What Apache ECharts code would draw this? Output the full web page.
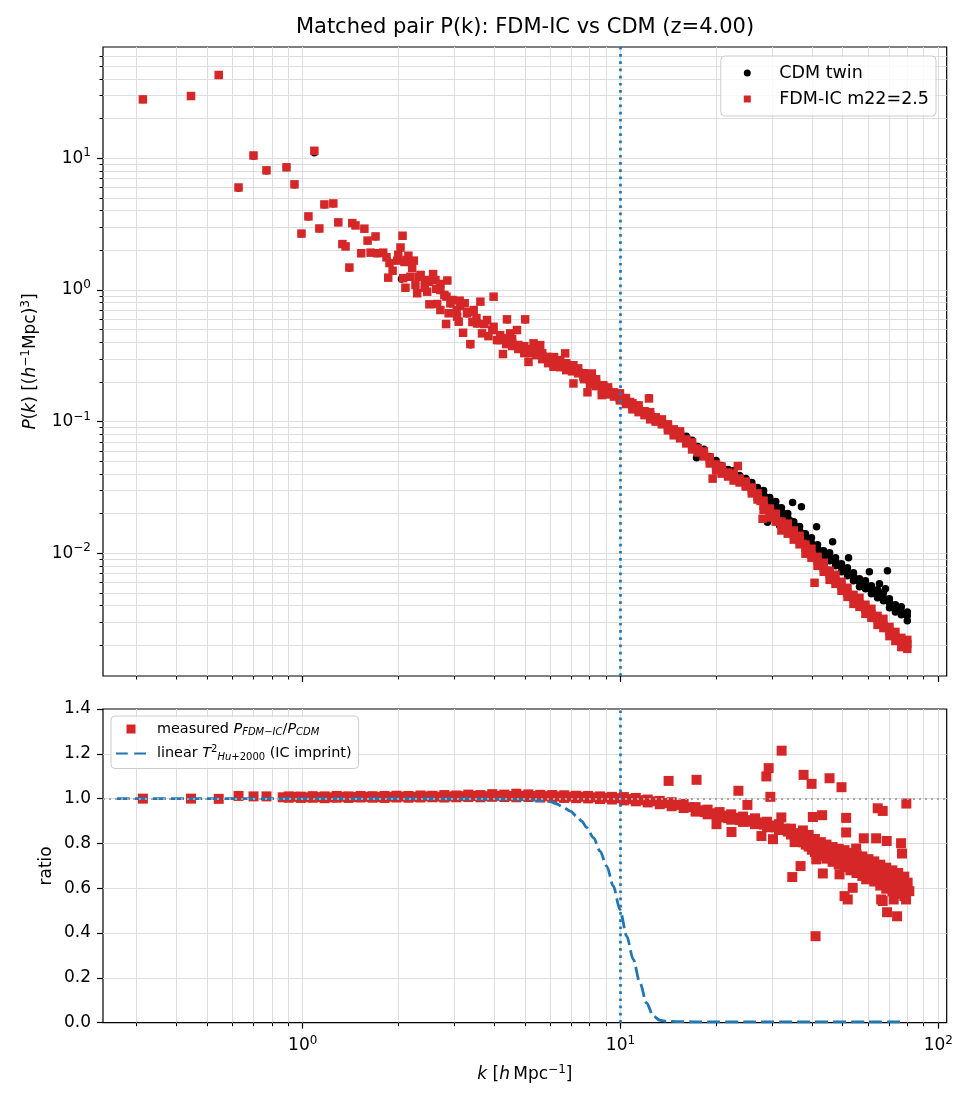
<!DOCTYPE html>
<html lang="en">

<head>
  <meta charset="UTF-8">
  <title>Matched pair P(k): FDM-IC vs CDM</title>
  <script src="https://cdn.jsdelivr.net/npm/echarts@6.0.0/dist/echarts.min.js"></script>
</head>

<style>
  html,
  body {
    margin: 0;
    background: #fff;
  }

  #chart {
    width: 975px;
    height: 1105px;
  }
</style>

<body>
  <div id="chart"></div>
  <script type="text/javascript">
    // ---- data: [k (h/Mpc), value] ----

    // CDM twin, P(k) (black dots, mostly hidden under the red squares below k~15)
    var cdmPk = [
      [0.314, 28.0], [0.445, 29.6], [0.544, 42.8], [0.628, 5.95], [0.700, 10.4], [0.769, 8.05], [0.889, 8.5], [0.942, 6.3], [1.088, 11.0],
      [0.991, 2.67], [1.042, 3.60], [1.128, 2.92], [1.170, 4.44], [1.248, 4.52], [1.294, 3.25], [1.333, 2.22], [1.402, 1.47], [1.432, 3.20],
      [1.563, 2.91], [1.600, 2.36], [1.695, 2.54], [1.528, 1.89], [1.716, 1.89], [1.835, 1.76], [1.918, 1.39], [2.045, 1.21], [2.061, 2.56],
      [2.031, 2.09], [2.121, 1.68], [2.236, 1.66], [2.105, 1.03], [2.318, 1.25], [2.421, 1.18], [2.572, 1.31], [2.711, 0.99], [2.649, 0.776],
      [2.915, 0.786], [3.118, 0.823], [3.369, 0.384], [3.096, 0.570], [3.289, 0.660], [3.536, 0.553], [3.802, 0.587],
      [4.393, 0.594], [5.012, 0.594],
      [4.18, 0.435], [4.56, 0.40], [4.98, 0.358], [5.43, 0.33], [5.92, 0.30], [6.46, 0.276], [7.04, 0.252], [7.68, 0.223], [8.38, 0.198],
      [9.14, 0.175], [9.96, 0.154], [10.9, 0.135], [11.9, 0.119], [12.3, 0.152], [12.9, 0.105], [14.1, 0.092], [15.4, 0.080],
      [16.1, 0.0773], [16.1, 0.0708], [16.8, 0.0721], [16.8, 0.0660], [17.5, 0.0648], [17.5, 0.0584], [18.3, 0.0616], [18.3, 0.0554],
      [19.1, 0.0544], [19.1, 0.0498], [20.0, 0.0507], [20.0, 0.0464], [20.8, 0.0465], [20.8, 0.0418], [21.8, 0.0433], [21.8, 0.0390],
      [22.7, 0.0426], [22.7, 0.0383], [23.7, 0.0389], [23.7, 0.0357], [24.8, 0.0370], [24.8, 0.0333], [25.9, 0.0345], [25.9, 0.0316],
      [27.0, 0.0316], [27.0, 0.0284], [28.2, 0.0300], [28.2, 0.0266], [29.5, 0.0265], [29.5, 0.0234], [30.8, 0.0247], [30.8, 0.0218],
      [32.1, 0.0222], [32.1, 0.0197], [33.6, 0.0201], [33.6, 0.0177], [35.1, 0.0174], [35.1, 0.0154], [36.6, 0.0160], [36.6, 0.0139],
      [38.2, 0.0141], [38.2, 0.0123], [39.9, 0.0131], [39.9, 0.0114], [41.7, 0.0116], [41.7, 0.0101], [43.6, 0.01047], [43.6, 0.00910],
      [45.5, 0.01011], [45.5, 0.00879], [47.5, 0.00926], [47.5, 0.00805], [49.6, 0.00834], [49.6, 0.00725], [51.8, 0.00777], [51.8, 0.00676],
      [54.1, 0.00711], [54.1, 0.00618], [56.5, 0.00641], [56.5, 0.00557], [59.0, 0.00619], [59.0, 0.00538], [61.6, 0.00566], [61.6, 0.00492],
      [64.4, 0.00528], [64.4, 0.00459], [67.2, 0.00501], [67.2, 0.00436], [70.2, 0.00452], [70.2, 0.00386], [73.3, 0.00406], [73.3, 0.00359],
      [76.5, 0.00392], [76.5, 0.00341], [79.9, 0.00359], [79.9, 0.00307],
      [16.1, 0.0746], [16.8, 0.0684], [17.5, 0.0626], [18.3, 0.0574], [19.1, 0.0525], [20.0, 0.0481], [20.8, 0.0441], [21.8, 0.0418],
      [22.7, 0.0397], [23.7, 0.0376], [24.8, 0.0351], [25.9, 0.0327], [27.0, 0.0305], [28.2, 0.0280], [29.5, 0.0251], [30.8, 0.0230],
      [32.1, 0.0211], [33.6, 0.0187], [35.1, 0.0165], [36.6, 0.0149], [38.2, 0.0134], [39.9, 0.0120], [41.7, 0.0108], [43.6, 0.00993],
      [45.5, 0.00926], [47.5, 0.00863], [49.6, 0.00791], [51.8, 0.00712], [54.1, 0.00663], [56.5, 0.00608], [59.0, 0.00567], [61.6, 0.00528],
      [64.4, 0.00501], [67.2, 0.00459], [70.2, 0.00421], [73.3, 0.00385], [76.5, 0.00359], [79.9, 0.00335],
      [27.6, 0.0292], [28.8, 0.0265], [30.1, 0.0240], [31.4, 0.0220], [32.9, 0.0199], [34.3, 0.0176], [35.8, 0.0157], [37.4, 0.0141],
      [39.0, 0.0127], [40.8, 0.0114], [42.6, 0.0104], [44.5, 0.00960], [46.5, 0.00895], [48.5, 0.00827], [50.7, 0.00750], [53.0, 0.00688],
      [55.3, 0.00636], [57.7, 0.00588], [60.3, 0.00548], [63.0, 0.00515], [65.8, 0.00480], [68.7, 0.00440], [71.7, 0.00403], [74.9, 0.00372],
      [78.2, 0.00347],
      [34.8, 0.0243], [37.1, 0.0226], [41.4, 0.0159], [46.5, 0.01226], [52.2, 0.00926], [60.7, 0.00724], [69.2, 0.00736], [65.3, 0.00587],
      [68.2, 0.00538], [17.35, 0.0532], [29.0, 0.0172], [31.7, 0.0162]
    ];

    // FDM-IC m22=2.5, P(k) (red squares)
    var fdmPk = [
      [0.314, 28.0], [0.445, 29.7], [0.544, 42.9], [0.628, 6.0], [0.700, 10.5], [0.769, 8.1], [0.889, 8.54], [0.942, 6.34], [1.088, 11.4],
      [0.991, 2.68], [1.042, 3.62], [1.128, 2.93], [1.170, 4.46], [1.248, 4.54], [1.294, 3.26], [1.333, 2.23], [1.364, 2.14], [1.402, 1.48],
      [1.432, 3.22], [1.466, 3.09], [1.563, 2.92], [1.600, 2.37], [1.695, 2.55], [1.528, 1.90], [1.635, 1.92], [1.716, 1.90], [1.792, 1.92],
      [1.835, 1.77], [1.875, 1.60], [1.918, 1.40], [1.858, 1.24], [2.061, 2.58], [2.031, 2.10], [1.998, 1.85], [1.983, 1.67], [2.121, 1.69],
      [2.236, 1.67], [2.071, 1.23], [2.105, 1.04], [2.183, 1.26], [2.318, 1.26], [2.263, 1.09], [2.292, 0.944], [2.421, 1.19], [2.572, 1.32],
      [2.616, 1.19], [2.852, 1.18], [2.464, 0.970], [2.711, 1.00], [2.504, 0.778], [2.649, 0.782], [2.711, 0.704], [2.833, 0.889],
      [2.915, 0.792], [3.118, 0.829], [3.233, 0.792], [3.623, 0.815], [3.987, 0.889], [2.826, 0.551], [3.096, 0.574], [3.196, 0.473],
      [3.369, 0.388], [2.879, 0.665], [3.061, 0.627], [3.289, 0.665], [3.451, 0.704], [3.536, 0.557], [3.666, 0.468], [3.802, 0.591],
      [3.987, 0.525], [4.085, 0.416], [4.267, 0.326], [4.393, 0.598], [4.499, 0.468], [4.723, 0.496], [5.012, 0.598], [4.837, 0.370],
      [5.134, 0.284], [5.325, 0.393], [5.589, 0.381], [5.866, 0.310], [6.152, 0.261], [6.697, 0.330], [6.457, 0.293], [7.110, 0.268],
      [7.110, 0.195], [7.643, 0.219], [7.871, 0.167], [8.122, 0.232], [8.216, 0.206], [8.831, 0.189], [8.730, 0.159], [9.49, 0.163],
      [9.957, 0.145], [10.71, 0.141], [11.24, 0.129], [12.29, 0.150],
      [2.09, 1.63], [2.21, 1.47], [2.35, 1.30], [2.49, 1.15], [2.63, 1.02], [2.79, 0.916], [2.96, 0.839], [3.13, 0.755], [3.32, 0.680],
      [3.52, 0.612], [3.73, 0.551], [3.95, 0.496], [2.15, 1.82], [2.42, 1.04], [2.71, 1.11], [3.05, 0.704], [3.42, 0.571], [3.84, 0.446],
      [4.18, 0.454], [4.18, 0.416], [4.37, 0.431], [4.37, 0.388], [4.56, 0.424], [4.56, 0.375], [4.77, 0.382], [4.77, 0.356],
      [4.98, 0.374], [4.98, 0.331], [5.20, 0.355], [5.20, 0.331], [5.43, 0.350], [5.43, 0.320], [5.67, 0.331], [5.67, 0.298],
      [5.92, 0.309], [5.92, 0.278], [6.18, 0.309], [6.18, 0.273], [6.46, 0.278], [6.46, 0.259], [6.75, 0.278], [6.75, 0.246],
      [7.04, 0.259], [7.04, 0.241], [7.36, 0.254], [7.36, 0.233], [7.68, 0.233], [7.68, 0.210], [8.02, 0.213], [8.02, 0.192],
      [8.38, 0.210], [8.38, 0.186], [8.75, 0.185], [8.75, 0.173], [9.14, 0.182], [9.14, 0.161], [9.54, 0.167], [9.54, 0.155],
      [9.96, 0.164], [9.96, 0.150], [10.4, 0.151], [10.4, 0.136], [10.9, 0.138], [10.9, 0.124], [11.4, 0.133], [11.4, 0.118],
      [11.9, 0.120], [11.9, 0.112], [12.4, 0.118], [12.4, 0.104], [12.9, 0.108], [12.9, 0.100], [13.5, 0.104], [13.5, 0.0954],
      [14.1, 0.0954], [14.1, 0.0859], [14.7, 0.0874], [14.7, 0.0787], [15.4, 0.0844], [15.4, 0.0747], [16.1, 0.0733], [16.1, 0.0683],
      [16.8, 0.0696], [16.8, 0.0615], [17.5, 0.0626], [17.5, 0.0583], [18.3, 0.0594], [18.3, 0.0544], [19.1, 0.0534], [19.1, 0.0481],
      [20.0, 0.0473], [20.0, 0.0426], [20.8, 0.0456], [20.8, 0.0403], [21.8, 0.0411], [21.8, 0.0383], [22.7, 0.0404], [22.7, 0.0357],
      [23.7, 0.0370], [23.7, 0.0345], [24.8, 0.0351], [24.8, 0.0321], [25.9, 0.0316], [25.9, 0.0285], [27.0, 0.0285], [27.0, 0.0256],
      [28.2, 0.0251], [28.2, 0.0214], [29.5, 0.0219], [29.5, 0.0187], [30.8, 0.0200], [30.8, 0.0174], [32.1, 0.0174], [32.1, 0.0149],
      [33.6, 0.0168], [33.6, 0.0141], [35.1, 0.0149], [35.1, 0.0127], [36.6, 0.0136], [36.6, 0.0117], [38.2, 0.01163], [38.2, 0.00993],
      [39.9, 0.01084], [39.9, 0.00926], [41.7, 0.00941], [41.7, 0.00803], [43.6, 0.00848], [43.6, 0.00724], [45.5, 0.00737], [45.5, 0.00629],
      [47.5, 0.00687], [47.5, 0.00586], [49.6, 0.00608], [49.6, 0.00519], [51.8, 0.00547], [51.8, 0.00467], [54.1, 0.00484], [54.1, 0.00413],
      [56.5, 0.00459], [56.5, 0.00392], [59.0, 0.00407], [59.0, 0.00347], [61.6, 0.00379], [61.6, 0.00324], [64.4, 0.00335], [64.4, 0.00286],
      [67.2, 0.00318], [67.2, 0.00271], [70.2, 0.00276], [70.2, 0.00235], [73.3, 0.00253], [73.3, 0.00216], [76.5, 0.00228], [76.5, 0.00194],
      [79.9, 0.00220], [79.9, 0.00188],
      [4.18, 0.431], [4.37, 0.416], [4.56, 0.395], [4.77, 0.375], [4.98, 0.355], [5.20, 0.343], [5.43, 0.326], [5.67, 0.314],
      [5.92, 0.298], [6.18, 0.288], [6.46, 0.273], [6.75, 0.264], [7.04, 0.250], [7.36, 0.237], [7.68, 0.221], [8.02, 0.206],
      [8.38, 0.196], [8.75, 0.182], [9.14, 0.173], [9.54, 0.161], [9.96, 0.153], [10.4, 0.143], [10.9, 0.133], [11.4, 0.124],
      [11.9, 0.118], [12.4, 0.112], [12.9, 0.104], [13.5, 0.0971], [14.1, 0.0905], [14.7, 0.0844], [15.4, 0.0787], [16.1, 0.0720],
      [16.8, 0.0660], [17.5, 0.0604], [18.3, 0.0554], [19.1, 0.0507], [20.0, 0.0457], [20.8, 0.0425], [21.8, 0.0404], [22.7, 0.0383],
      [23.7, 0.0357], [24.8, 0.0327], [25.9, 0.0300], [27.0, 0.0270], [28.2, 0.0230], [29.5, 0.0204], [30.8, 0.0183], [32.1, 0.0165],
      [33.6, 0.0151], [35.1, 0.0139], [36.6, 0.0125], [38.2, 0.01103], [39.9, 0.00976], [41.7, 0.00877], [43.6, 0.00777], [45.5, 0.00699],
      [47.5, 0.00618], [49.6, 0.00567], [51.8, 0.00501], [54.1, 0.00459], [56.5, 0.00413], [59.0, 0.00379], [61.6, 0.00347], [64.4, 0.00318],
      [67.2, 0.00286], [70.2, 0.00257], [73.3, 0.00232], [76.5, 0.00216], [79.9, 0.00205],
      [27.6, 0.0250], [28.8, 0.0217], [30.1, 0.0193], [31.4, 0.0174], [32.9, 0.0158], [34.3, 0.0145], [35.8, 0.0132], [37.4, 0.0118],
      [39.0, 0.0104], [40.8, 0.00925], [42.6, 0.00826], [44.5, 0.00737], [46.5, 0.00657], [48.5, 0.00592], [50.7, 0.00533], [53.0, 0.00480],
      [55.3, 0.00436], [57.7, 0.00396], [60.3, 0.00363], [63.0, 0.00332], [65.8, 0.00302], [68.7, 0.00271], [71.7, 0.00244], [74.9, 0.00224],
      [78.2, 0.00210],
      [19.5, 0.0369], [23.4, 0.0460], [28.0, 0.0183], [40.8, 0.00597]
    ];

    // measured P_FDM-IC / P_CDM (red squares, lower panel)
    var ratioPk = [
      [0.314, 1.000], [0.445, 1.000], [0.544, 0.999], [0.628, 1.012], [0.700, 1.010], [0.769, 1.010],
      [0.865, 1.006], [0.904, 1.004], [0.904, 1.010], [0.944, 1.008], [0.986, 1.003], [0.986, 1.009], [1.029, 1.006], [1.075, 1.004],
      [1.075, 1.011], [1.123, 1.007], [1.172, 1.002], [1.172, 1.010], [1.224, 1.006], [1.279, 1.004], [1.279, 1.012], [1.335, 1.008],
      [1.394, 1.003], [1.394, 1.010], [1.457, 1.007], [1.521, 1.005], [1.521, 1.012], [1.588, 1.008], [1.659, 1.004], [1.659, 1.011],
      [1.732, 1.007], [1.809, 1.003], [1.809, 1.012], [1.889, 1.008], [1.973, 1.005], [1.973, 1.013], [2.061, 1.009], [2.152, 1.004],
      [2.152, 1.012], [2.247, 1.008], [2.347, 1.005], [2.347, 1.014], [2.451, 1.010], [2.559, 1.006], [2.559, 1.013], [2.673, 1.009],
      [2.791, 1.005], [2.791, 1.016], [2.915, 1.010], [3.044, 1.006], [3.044, 1.014], [3.179, 1.011], [3.320, 1.007], [3.320, 1.018],
      [3.467, 1.012], [3.621, 1.006], [3.621, 1.016], [3.781, 1.011], [3.949, 1.008], [3.949, 1.020], [4.124, 1.013], [4.31, 1.007],
      [4.31, 1.018], [4.50, 1.012], [4.70, 1.006], [4.70, 1.022], [4.91, 1.013], [5.13, 1.007], [5.13, 1.019], [5.35, 1.012],
      [5.59, 1.005], [5.59, 1.017], [5.84, 1.011], [6.10, 1.004], [6.10, 1.016], [6.37, 1.010], [6.65, 1.003], [6.65, 1.015],
      [6.94, 1.009], [7.25, 1.002], [7.25, 1.013], [7.57, 1.008], [7.91, 1.001], [7.91, 1.012], [8.26, 1.006], [8.62, 0.998],
      [8.62, 1.010], [9.00, 1.004], [9.40, 0.996], [9.40, 1.008], [9.81, 1.002], [10.25, 0.992], [10.25, 1.007], [10.7, 0.998],
      [11.17, 0.988], [11.17, 1.003], [11.67, 0.993], [12.18, 0.983], [12.18, 0.996], [12.72, 0.988], [13.29, 0.975], [13.29, 0.990],
      [13.88, 0.980], [14.49, 0.966], [14.49, 0.984], [15.13, 0.972], [15.8, 0.958], [15.8, 0.976], [16.5, 0.962], [17.23, 0.942],
      [17.23, 0.962], [18.0, 0.948], [18.8, 0.930], [18.8, 0.951], [19.6, 0.935], [20.5, 0.916], [20.5, 0.940], [21.4, 0.924],
      [22.3, 0.906], [22.3, 0.930], [23.3, 0.915], [24.3, 0.896], [24.3, 0.920], [25.4, 0.904], [26.5, 0.886], [26.5, 0.912],
      [27.7, 0.894], [28.9, 0.872], [28.9, 0.897], [30.2, 0.880], [31.5, 0.860], [31.5, 0.886], [32.9, 0.866], [34.4, 0.840],
      [34.4, 0.866], [35.9, 0.846],
      [18.4, 0.940], [20.1, 0.926], [21.8, 0.913], [23.8, 0.904], [25.9, 0.897], [28.3, 0.884], [30.8, 0.872], [33.6, 0.853],
      [36.6, 0.834],
      [37.5, 0.805], [37.5, 0.832], [37.5, 0.858], [39.1, 0.786], [39.1, 0.812], [39.1, 0.838], [40.9, 0.762], [40.9, 0.792],
      [40.9, 0.820], [42.7, 0.748], [42.7, 0.778], [42.7, 0.806], [44.5, 0.732], [44.5, 0.765], [44.5, 0.795], [46.5, 0.718],
      [46.5, 0.752], [46.5, 0.784], [48.6, 0.706], [48.6, 0.742], [48.6, 0.776], [50.7, 0.694], [50.7, 0.732], [50.7, 0.770],
      [52.9, 0.680], [52.9, 0.722], [52.9, 0.758], [55.3, 0.668], [55.3, 0.712], [55.3, 0.750], [57.7, 0.655], [57.7, 0.700],
      [57.7, 0.742], [60.3, 0.642], [60.3, 0.688], [60.3, 0.730], [62.9, 0.630], [62.9, 0.676], [62.9, 0.720], [65.7, 0.612],
      [65.7, 0.660], [65.7, 0.705], [68.6, 0.598], [68.6, 0.645], [68.6, 0.692], [71.7, 0.586], [71.7, 0.632], [71.7, 0.680],
      [74.8, 0.575], [74.8, 0.620], [74.8, 0.668], [78.2, 0.565], [78.2, 0.608], [78.2, 0.652],
      [38.3, 0.820], [38.3, 0.795], [40.0, 0.800], [40.0, 0.772], [41.8, 0.790], [41.8, 0.758], [43.6, 0.780], [43.6, 0.745],
      [45.5, 0.770], [45.5, 0.735], [47.5, 0.762], [47.5, 0.724], [49.6, 0.756], [49.6, 0.714], [51.8, 0.742], [51.8, 0.705],
      [54.1, 0.735], [54.1, 0.690], [56.5, 0.722], [56.5, 0.680], [59.0, 0.712], [59.0, 0.665], [61.6, 0.700], [61.6, 0.655],
      [64.3, 0.690], [64.3, 0.640], [67.2, 0.676], [67.2, 0.625], [70.1, 0.662], [70.1, 0.612], [73.3, 0.650], [73.3, 0.600],
      [76.5, 0.636], [76.5, 0.588],
      [14.17, 1.079], [17.35, 1.084], [23.5, 1.035], [25.08, 0.972], [29.26, 1.136], [28.77, 1.099], [29.62, 1.008], [32.14, 1.214],
      [37.68, 1.106], [39.93, 1.066], [45.48, 1.091], [49.6, 1.051], [64.48, 0.957], [66.85, 0.945], [79.35, 0.978], [40.3, 0.918],
      [43.1, 0.926], [51.3, 0.914], [32.07, 0.916], [20.05, 0.886], [22.35, 0.851], [27.76, 0.833], [30.19, 0.819], [35.31, 0.806],
      [36.87, 0.699], [34.72, 0.650], [41.3, 0.729], [43.32, 0.666], [51.3, 0.849], [58.3, 0.823], [63.74, 0.823], [68.82, 0.811],
      [76.37, 0.801], [76.9, 0.755], [55.16, 0.777], [50.7, 0.565], [51.9, 0.550], [53.8, 0.602], [66.1, 0.550], [66.85, 0.543],
      [72.4, 0.550], [79.2, 0.550], [69.0, 0.493], [74.2, 0.475], [41.1, 0.386], [48.9, 0.662], [59.3, 0.640], [80.1, 0.625],
      [81.1, 0.587]
    ];

    // linear T^2 (Hu+2000) transfer, blue dashed curve
    var tHu2000 = [
      [0.26, 1.0], [0.5, 1.0], [1.0, 1.0], [2.0, 1.0], [3.0, 0.999], [4.0, 0.998], [4.7, 0.997], [5.45, 0.993], [6.0, 0.987],
      [6.3, 0.976], [6.6, 0.962], [6.95, 0.944], [7.29, 0.921], [7.55, 0.899], [7.83, 0.871], [8.22, 0.826], [8.62, 0.766],
      [9.05, 0.699], [9.49, 0.610], [9.96, 0.505], [10.46, 0.386], [10.97, 0.282], [11.51, 0.178], [12.08, 0.088], [12.68, 0.030],
      [13.3, 0.011], [14.0, 0.006], [15.0, 0.005], [17, 0.004], [25, 0.004], [40, 0.004], [60, 0.004], [78, 0.004]
    ];

    // tick positions
    var kMajor = [1, 10, 100];
    var kMinor = [0.3, 0.4, 0.5, 0.6, 0.7, 0.8, 0.9, 2, 3, 4, 5, 6, 7, 8, 9, 20, 30, 40, 50, 60, 70, 80, 90];
    var pMajor = [0.01, 0.1, 1, 10];
    var pMinor = [0.002, 0.003, 0.004, 0.005, 0.006, 0.007, 0.008, 0.009,
      0.02, 0.03, 0.04, 0.05, 0.06, 0.07, 0.08, 0.09,
      0.2, 0.3, 0.4, 0.5, 0.6, 0.7, 0.8, 0.9,
      2, 3, 4, 5, 6, 7, 8, 9, 20, 30, 40, 50, 60];
    var kCut = 10;

    var FONT = 'DejaVu Sans';
    var GRID_COLOR = '#dedede';
    var RED = '#d62728';
    var BLUE = '#1f77b4';
    var squareIcon = 'path://M0,0L10,0L10,10L0,10Z';
    var dashIcon = 'path://M0,0h11v2h-11z M17,0h11v2h-11z';
    var ratioName = 'measured P_FDM-IC/P_CDM';
    var tName = 'linear T2_Hu+2000 (IC imprint)';

    var supStyle = { fontFamily: FONT, fontSize: 12, color: '#000', padding: [0, 0, 10, 0] };
    var itStyle = { fontFamily: FONT, fontSize: 17, color: '#000', fontStyle: 'italic' };

    // 10^n labels
    function powLabel(v) {
      var e = Math.round(Math.log10(v));
      return '10{sup|' + (e < 0 ? '\u2212' + (-e) : e) + '}';
    }

    function logAxis(gridIndex, dim, ticks, major, extra) {
      var ax = {
        type: 'log',
        gridIndex: gridIndex,
        position: dim === 'x' ? 'bottom' : 'left',
        axisLine: { show: false, onZero: false },
        axisTick: {
          show: true,
          length: major ? 6 : 3.5,
          customValues: ticks,
          lineStyle: { color: '#000', width: major ? 1.2 : 1 }
        },
        axisLabel: { show: false },
        splitLine: { show: true, lineStyle: { color: GRID_COLOR, width: 1 } },
        axisPointer: { show: false }
      };
      if (dim === 'x') {
        ax.min = 0.2352;
        ax.max = 106.3;
      } else {
        ax.min = 0.00117;
        ax.max = 70.0;
      }
      return Object.assign(ax, extra || {});
    }

    var tickLabel = function (ticks) {
      return {
        show: true,
        customValues: ticks,
        formatter: powLabel,
        margin: 12,
        fontFamily: FONT,
        fontSize: 17,
        color: '#000',
        rich: { sup: supStyle }
      };
    };

    var chart = echarts.init(document.getElementById('chart'), null, { renderer: 'canvas' });

    var option = {
      animation: false,
      backgroundColor: '#fff',
      textStyle: { fontFamily: FONT },
      title: {
        text: 'Matched pair P(k): FDM-IC vs CDM (z=4.00)',
        left: 525,
        top: 17,
        padding: 0,
        textAlign: 'center',
        textStyle: { fontFamily: FONT, fontSize: 21, fontWeight: 'normal', color: '#000' }
      },
      grid: [
        { left: 103, top: 47, width: 843.7, height: 629, show: true, borderColor: '#000', borderWidth: 1.2, backgroundColor: 'transparent', outerBoundsMode: 'none', containLabel: false },
        { left: 103, top: 709, width: 843.7, height: 313.7, show: true, borderColor: '#000', borderWidth: 1.2, backgroundColor: 'transparent', outerBoundsMode: 'none', containLabel: false }
      ],
      xAxis: [
        logAxis(0, 'x', kMajor, true),
        logAxis(0, 'x', kMinor, false),
        logAxis(1, 'x', kMajor, true, {
          axisLabel: tickLabel(kMajor),
          name: '{i|k} [{i|h}\u2009Mpc{sup|\u22121}]',
          nameLocation: 'middle',
          nameGap: 41,
          nameMoveOverlap: false,
          nameTextStyle: { fontFamily: FONT, fontSize: 17, color: '#000', rich: { i: itStyle, sup: supStyle } }
        }),
        logAxis(1, 'x', kMinor, false)
      ],
      yAxis: [
        logAxis(0, 'y', pMajor, true, {
          axisLabel: tickLabel(pMajor),
          name: '{i|P}({i|k}) [({i|h}{sup|\u22121}Mpc){sup|3}]',
          nameLocation: 'middle',
          nameRotate: 90,
          nameGap: 61,
          nameMoveOverlap: false,
          nameTextStyle: { fontFamily: FONT, fontSize: 17, color: '#000', rich: { i: itStyle, sup: supStyle } }
        }),
        logAxis(0, 'y', pMinor, false),
        {
          type: 'value',
          gridIndex: 1,
          position: 'left',
          min: 0,
          max: 1.4,
          interval: 0.2,
          axisLine: { show: false, onZero: false },
          axisTick: { show: true, length: 6, lineStyle: { color: '#000', width: 1.2 } },
          axisLabel: {
            margin: 12, fontFamily: FONT, fontSize: 17, color: '#000',
            formatter: function (v) { return v.toFixed(1); }
          },
          splitLine: { show: true, showMinLine: false, showMaxLine: false, lineStyle: { color: GRID_COLOR, width: 1 } },
          name: 'ratio',
          nameLocation: 'middle',
          nameRotate: 90,
          nameGap: 48,
          nameMoveOverlap: false,
          nameTextStyle: { fontFamily: FONT, fontSize: 17, color: '#000' }
        }
      ],
      legend: [
        {
          data: [{ name: 'CDM twin', icon: 'circle' }, { name: 'FDM-IC m22=2.5', icon: squareIcon }],
          orient: 'vertical',
          right: 39,
          top: 56,
          itemWidth: 54,
          itemHeight: 7,
          itemGap: 8,
          padding: [8, 7, 8, 23],
          symbolKeepAspect: true,
          selectedMode: false,
          borderColor: '#cccccc',
          borderWidth: 1,
          borderRadius: 4,
          backgroundColor: 'rgba(255,255,255,0.8)',
          itemStyle: { borderWidth: 0, opacity: 1 },
          textStyle: { fontFamily: FONT, fontSize: 17.5, color: '#000', lineHeight: 18 }
        },
        {
          data: [{ name: ratioName, icon: squareIcon }, { name: tName, icon: dashIcon }],
          orient: 'vertical',
          left: 111,
          top: 716,
          itemWidth: 30,
          itemHeight: 9,
          itemGap: 6,
          padding: [4, 7, 6, 5],
          symbolKeepAspect: true,
          selectedMode: false,
          borderColor: '#cccccc',
          borderWidth: 1,
          borderRadius: 4,
          backgroundColor: 'rgba(255,255,255,0.8)',
          itemStyle: { borderWidth: 0, opacity: 1 },
          formatter: function (name) {
            if (name === ratioName) {
              return '{a|measured }{i|P}{sb|FDM\u2212IC}/{i|P}{sb|CDM}';
            }
            return '{a|linear }{i|T}{sp|2}{sb|Hu}{sbr|+2000} (IC imprint)';
          },
          textStyle: {
            fontFamily: FONT, fontSize: 14.4, color: '#000', lineHeight: 18,
            rich: {
              a: { fontFamily: FONT, fontSize: 14.4, color: '#000', padding: [0, 0, 0, 6] },
              i: { fontFamily: FONT, fontSize: 14.4, color: '#000', fontStyle: 'italic' },
              sb: { fontFamily: FONT, fontSize: 10, color: '#000', fontStyle: 'italic', padding: [7, 0, 0, 0] },
              sbr: { fontFamily: FONT, fontSize: 10, color: '#000', padding: [7, 0, 0, 0] },
              sp: { fontFamily: FONT, fontSize: 10, color: '#000', padding: [0, 0, 9, 0] }
            }
          }
        }
      ],
      series: [
        {
          name: 'CDM twin',
          type: 'scatter',
          xAxisIndex: 0,
          yAxisIndex: 0,
          data: cdmPk,
          symbol: 'circle',
          symbolSize: 7.5,
          itemStyle: { color: '#000', opacity: 1 },
          z: 2
        },
        {
          name: 'FDM-IC m22=2.5',
          type: 'scatter',
          xAxisIndex: 0,
          yAxisIndex: 0,
          data: fdmPk,
          symbol: 'rect',
          symbolSize: 8.5,
          itemStyle: { color: RED, opacity: 1 },
          z: 3,
          markLine: {
            silent: true,
            symbol: 'none',
            animation: false,
            label: { show: false },
            lineStyle: { color: BLUE, type: [2.7, 4.5], width: 2.7, opacity: 1 },
            data: [{ xAxis: kCut }]
          }
        },
        {
          name: ratioName,
          type: 'scatter',
          xAxisIndex: 2,
          yAxisIndex: 2,
          data: ratioPk,
          symbol: 'rect',
          symbolSize: 10,
          itemStyle: { color: RED, opacity: 1 },
          z: 2,
          markLine: {
            silent: true,
            symbol: 'none',
            animation: false,
            label: { show: false },
            data: [
              { xAxis: kCut, lineStyle: { color: BLUE, type: [2.7, 4.5], width: 2.7, opacity: 1 } },
              { yAxis: 1, lineStyle: { color: '#a8a8a8', type: [2, 4], width: 2, opacity: 1 } }
            ]
          }
        },
        {
          name: tName,
          type: 'line',
          xAxisIndex: 2,
          yAxisIndex: 2,
          data: tHu2000,
          symbol: 'none',
          showSymbol: false,
          smooth: 0.3,
          smoothMonotone: 'x',
          itemStyle: { color: BLUE },
          lineStyle: { color: BLUE, width: 2.8, type: [13, 5] },
          z: 3
        }
      ]
    };

    chart.setOption(option);
  </script>
</body>

</html>
